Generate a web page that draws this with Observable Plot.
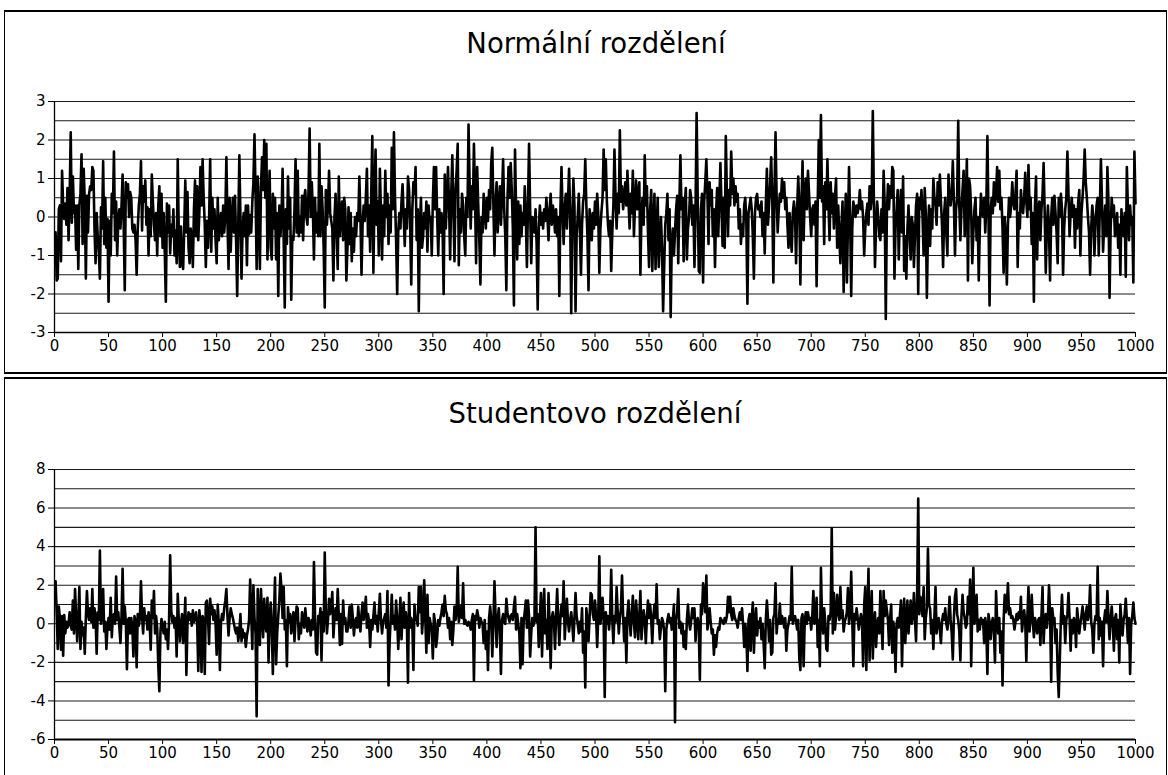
<!DOCTYPE html>
<html><head><meta charset="utf-8">
<script src="https://cdn.jsdelivr.net/npm/d3@7"></script>
<script src="https://cdn.jsdelivr.net/npm/@observablehq/plot@0.6"></script>
<style>
html,body{margin:0;padding:0;background:#fff;}
body{width:1168px;height:775px;position:relative;overflow:hidden;font-family:"DejaVu Sans",Verdana,sans-serif;}
.panel{position:absolute;box-sizing:border-box;border:1px solid #000;border-top-width:2px;border-bottom-width:2px;pointer-events:none;}
.title{position:absolute;font-size:27.5px;line-height:27.5px;color:#000;transform:translateX(-50%);white-space:nowrap;}
.chart{position:absolute;left:0;}
</style></head><body>
<div id="c1" class="chart" style="top:80px"></div>
<div id="c2" class="chart" style="top:450px"></div>
<div class="panel" style="left:4px;top:10px;width:1163px;height:364px"></div>
<div class="panel" style="left:4px;top:377px;width:1163px;height:420px"></div>
<div class="title" style="left:596px;top:29.5px">Normální rozdělení</div>
<div class="title" style="left:595px;top:400px">Studentovo rozdělení</div>
<script>
const xTicks = [0,50,100,150,200,250,300,350,400,450,500,550,600,650,700,750,800,850,900,950,1000];
const normalYTicks = [-3,-2,-1,0,1,2,3];
const normalGrid = [-2.5,-2,-1.5,-1,-0.5,0,0.5,1,1.5,2,2.5,3];
const studentYTicks = [-6,-4,-2,0,2,4,6,8];
const studentGrid = [-5,-4,-3,-2,-1,0,1,2,3,4,5,6,7,8];

const normalValues = [
-0.4,-1.65,-1.6,0.2,0.3,-1.15,1.2,0.3,-0.05,0.35,
-0.2,0.75,-0.6,0.5,2.2,-0.15,1.05,0.1,0.3,-0.85,
0.3,-1.35,0.3,0.6,1.63,-0.7,1.25,0.4,-1.6,0.55,
-0.4,0.6,0.8,0.7,1.3,1.2,-0.3,-1.2,0.1,-0.5,
-0.9,-1.6,0.25,-0.3,1.45,-0.7,0.5,-0.8,-0.05,-2.2,
-0.1,-1.0,0.6,0.1,1.7,-0.6,0.4,-1.0,-0.1,0.2,
-0.3,0.3,1.1,-0.2,-1.9,0.9,0.5,0.85,0.0,0.65,
0.5,-0.3,-0.4,-0.2,-0.6,-1.5,-0.3,0.3,0.6,1.45,
-0.35,0.8,0.4,0.95,-0.2,0.25,-1.0,0.2,-0.5,1.1,
0.4,-0.2,-0.6,0.1,-1.0,0.3,0.8,-0.5,0.6,-0.8,
0.1,-0.9,-2.2,0.35,-0.4,0.3,-0.95,-0.2,-0.5,0.2,
-1.0,-0.35,-1.2,1.5,-0.5,-1.3,-0.25,-1.2,-1.35,-0.3,
0.95,-0.4,0.65,-0.8,-1.2,-0.3,-0.6,-1.3,0.2,0.95,
-0.5,0.8,-0.6,0.1,1.3,0.3,1.5,0.5,-0.2,-1.3,
-0.1,-0.8,-0.1,1.5,-0.9,0.5,-0.3,0.2,-0.6,-1.2,
0.5,-0.6,-0.2,0.1,-0.5,0.3,-0.4,0.0,1.55,-0.1,
-1.35,0.5,-0.9,0.0,0.5,-0.4,0.55,-0.65,-2.05,-0.2,
1.6,0.0,-1.6,-0.3,0.1,-0.5,0.3,-1.25,0.3,-0.45,
0.05,-0.4,0.4,0.9,2.15,0.6,-1.35,1.05,0.1,-1.35,
0.8,1.55,0.7,2.0,0.5,1.9,-1.1,0.2,1.2,-0.8,
-1.1,0.6,-0.3,0.5,-1.1,0.1,-2.05,0.3,-0.5,0.0,
1.25,-0.6,-2.35,0.2,-0.7,1.05,-0.3,0.5,-2.15,-0.5,
-0.6,0.2,1.5,-0.4,1.2,-0.5,0.0,-0.4,0.55,-0.6,
0.5,0.7,0.0,-0.2,0.7,2.3,0.0,0.9,0.2,-1.1,
0.5,-0.4,0.1,-0.5,1.9,-0.5,0.8,0.2,-0.8,-2.35,
0.7,-0.2,0.3,1.2,0.1,-0.1,-0.3,-1.65,0.0,0.6,
-0.4,-1.35,1.05,-0.5,0.0,0.4,-0.6,0.5,0.2,-1.65,
-0.8,0.25,-0.7,0.1,-1.15,-0.3,-0.9,0.0,-0.5,0.1,
-0.1,1.05,0.0,-1.5,-0.2,0.3,-0.1,0.5,1.25,-0.5,
0.3,-0.9,0.6,2.1,-1.45,0.5,1.75,-0.2,0.4,-1.0,
1.25,0.1,-1.1,0.3,-0.5,1.2,0.0,0.6,-0.7,0.3,
-0.4,1.8,0.2,2.2,0.5,-0.6,-2.0,-0.4,0.1,-0.3,
0.4,0.85,0.0,-0.75,0.2,-0.3,1.05,0.7,-0.2,-1.75,
0.2,0.9,0.6,1.3,-0.6,0.2,-2.45,-0.2,0.5,-0.8,
-0.5,0.1,-0.3,0.4,-0.9,0.3,-0.1,0.0,-1.0,0.4,
1.3,0.2,1.3,0.0,-1.0,0.2,-0.4,0.1,-0.3,-2.0,
1.1,-0.3,0.5,1.3,0.3,-1.1,0.6,1.6,0.2,-1.15,
0.7,1.2,1.9,-1.25,0.2,-0.4,0.6,0.3,-0.5,-1.0,
0.5,0.0,2.4,0.9,-0.3,0.8,0.2,1.9,0.6,-1.2,
1.3,0.3,-0.6,-1.75,0.0,-0.4,0.6,0.2,-0.3,0.5,
-0.1,0.7,0.2,1.4,1.8,0.3,-1.0,0.4,0.9,-0.4,
0.3,0.8,-0.2,0.6,1.5,0.2,-0.5,-1.9,0.4,1.3,
0.5,1.4,0.7,-0.3,-2.3,1.75,0.2,-1.1,0.4,-0.7,
0.3,-0.5,0.1,-0.2,0.8,0.0,-1.3,0.3,1.9,0.2,
-1.2,0.0,-0.1,-0.4,0.2,-0.7,-2.4,-0.3,0.3,-0.2,
0.1,-0.3,0.2,-0.1,0.5,0.0,-0.6,0.2,0.6,-0.2,
0.3,0.1,-0.4,0.2,-0.5,0.0,-2.05,0.2,1.3,0.1,
-0.7,0.25,0.6,-0.3,0.4,1.25,0.1,-2.5,-0.2,1.0,
0.3,-2.45,-0.5,0.0,0.6,-0.3,-1.5,-0.2,0.4,0.6,
1.5,0.3,-0.5,-1.9,0.2,-0.1,-0.6,0.1,-0.3,0.4,
-0.2,0.6,0.1,-1.45,-0.3,0.15,0.5,1.75,0.7,1.5,
0.4,-0.2,-0.5,-0.1,-1.4,-0.4,0.3,1.75,0.5,-0.3,
0.6,0.1,2.25,0.4,0.8,0.2,0.5,0.9,0.3,1.2,
0.4,-0.3,0.6,0.1,1.2,-0.5,0.3,0.95,0.2,0.6,
0.9,-1.5,0.1,0.5,-0.2,1.6,0.3,0.8,-0.4,-1.3,
0.2,0.7,-1.4,-0.2,0.6,-1.35,-0.4,0.5,-1.3,-0.6,
0.0,-0.8,-2.45,-1.3,-0.2,0.1,0.6,-0.6,0.2,-2.6,
-0.7,-0.3,-1.0,-0.4,0.2,0.55,-1.2,0.3,1.6,0.2,
0.5,-1.15,0.3,0.75,-1.1,-0.3,0.0,0.7,0.5,-0.2,
0.3,-1.3,0.2,2.7,0.5,-1.4,-1.45,0.2,0.6,-1.7,
0.4,0.9,1.5,0.6,-0.7,0.9,0.3,0.7,-0.5,0.2,
-1.3,0.1,0.75,-0.5,0.4,1.4,0.3,-0.75,0.5,-0.8,
2.1,0.6,-0.5,0.7,0.3,1.7,0.6,1.0,0.3,0.8,
0.4,0.6,-0.3,0.2,-0.7,-0.2,-0.5,0.3,0.5,-0.1,
-2.25,0.1,0.3,0.5,0.2,-0.5,-1.6,0.1,0.5,0.6,
0.2,0.3,0.0,0.4,-0.5,0.1,-0.95,0.3,1.25,-0.2,
0.3,0.9,1.55,0.4,-1.7,0.6,2.2,0.5,-0.4,0.2,
0.6,0.4,1.0,0.5,0.9,0.2,0.5,-0.2,-0.8,0.1,
-0.5,-0.9,0.1,0.4,0.1,-1.2,0.2,1.05,0.3,-1.75,
0.4,1.45,-0.6,0.6,1.0,0.2,1.2,0.6,0.0,-0.5,
0.2,0.3,-0.2,0.4,-1.8,0.3,2.0,0.5,2.65,0.4,
0.8,-0.7,0.9,0.2,1.5,0.3,-0.6,0.9,0.1,0.6,
-0.3,0.5,1.0,-0.8,0.3,-0.5,-1.2,-0.2,0.4,-1.95,
-0.4,0.6,-1.7,-0.2,1.3,0.0,-2.05,-0.3,0.4,0.2,
0.0,0.3,0.1,0.3,0.7,0.2,0.4,0.0,-1.0,-0.3,
0.1,0.35,-0.2,0.8,0.2,0.5,2.75,0.4,-1.3,-0.2,
0.4,0.0,-0.5,-0.6,0.2,-0.4,1.2,0.3,-2.65,0.1,
0.85,0.2,0.8,0.5,1.3,1.2,-1.6,-0.3,0.2,0.7,
-1.1,0.1,0.7,-0.4,1.05,-1.4,-0.5,-1.6,-0.3,0.3,
-0.4,-1.1,0.0,-0.2,-1.3,-0.5,0.3,0.6,-2.0,0.5,
0.2,0.7,0.0,-1.0,0.75,0.1,-2.1,-0.4,0.3,-0.75,
0.2,-0.3,1.0,0.5,0.3,-0.2,0.9,0.3,1.1,0.4,
-0.2,-1.3,0.1,0.5,-0.4,-1.0,1.1,0.5,0.3,0.6,
1.45,0.4,-1.0,0.2,0.5,2.5,0.3,-0.6,0.2,0.7,
1.2,-0.5,0.4,1.5,-1.65,1.0,0.8,0.1,-1.2,-0.4,
0.2,0.5,-0.6,0.0,-1.65,-0.3,0.6,0.2,0.0,0.5,
-0.4,0.3,2.1,0.0,-2.3,0.2,0.5,0.1,0.9,0.3,
0.6,1.3,0.4,1.2,0.2,0.5,-0.3,-1.45,0.0,-0.5,
-1.75,-0.2,0.5,0.0,0.3,0.9,0.4,0.2,0.6,1.2,
-1.3,0.1,-0.3,0.7,0.3,0.1,0.5,1.15,0.4,0.0,
1.35,0.2,0.5,-0.7,0.1,-2.2,0.3,1.05,-1.1,0.2,
0.4,-0.6,0.2,0.6,1.4,0.1,-1.45,-0.3,0.3,-0.4,
-1.65,0.0,0.5,-0.2,0.55,0.1,-0.4,-1.2,0.5,0.0,
0.6,0.2,-1.5,-0.3,0.2,0.5,1.7,0.6,-0.5,0.1,
0.5,0.0,0.3,-0.8,0.2,-0.3,0.4,0.7,-1.0,0.1,
0.5,1.0,1.75,0.9,0.5,0.0,-0.4,-1.5,-0.3,0.3,
0.0,-1.0,-0.2,0.3,0.5,-1.0,0.2,1.5,0.4,-0.9,
-0.2,0.3,-0.5,1.3,0.4,-2.1,-0.3,0.5,0.0,0.3,
-0.5,-0.3,0.1,-0.8,-0.2,-1.5,0.2,-0.3,-0.5,0.1,
-1.55,1.3,0.2,-0.6,0.3,-0.2,0.0,-1.7,1.7,0.35
];

const studentValues = [
2.2,0.6,-1.3,0.9,0.3,-1.35,0.4,-1.65,0.45,-0.5,
0.1,-0.2,0.0,0.6,-0.1,-0.3,1.2,-0.5,1.8,0.4,
-0.9,0.2,1.9,-1.3,0.1,-0.6,-0.2,-1.55,0.3,1.7,
0.5,0.2,0.8,0.1,1.8,-0.2,0.8,0.3,-1.55,0.6,
0.2,3.8,0.0,0.5,1.8,-0.4,0.1,-1.3,-0.2,0.3,
-0.3,1.35,-0.7,0.4,0.5,0.0,2.45,0.2,0.6,-0.2,
-1.0,0.4,2.85,0.0,0.9,0.1,-2.35,0.2,0.3,-0.5,
0.3,-0.2,-1.7,0.4,0.1,-2.25,0.5,-0.1,0.3,2.2,
0.4,-0.5,0.8,0.2,0.4,-0.3,0.6,0.1,-1.35,1.2,
0.3,1.7,-0.5,0.4,-0.2,-2.15,-3.5,-0.4,0.25,-0.2,
-0.5,0.1,-0.8,-0.3,-1.3,0.2,3.55,0.7,0.1,0.4,
-0.2,0.3,-1.7,1.55,0.2,-0.9,0.05,0.5,-1.0,-0.3,
1.35,-2.65,0.0,0.6,0.2,0.5,-0.1,0.7,0.1,0.3,
0.6,0.0,-2.45,0.7,0.1,-2.5,0.4,0.2,-2.6,1.1,
1.2,0.3,-1.05,1.3,0.5,0.9,0.2,0.7,0.0,-1.6,
1.0,0.0,-2.4,0.1,0.5,0.2,0.8,1.2,1.8,0.4,
-0.6,0.3,0.8,0.5,0.3,0.0,-0.3,-0.5,-0.2,-0.9,
-0.4,0.5,-0.9,-0.3,-0.7,-0.5,-1.2,-0.6,-0.3,0.2,
2.3,0.5,-1.3,2.0,0.3,-0.5,-4.8,1.8,0.2,-1.1,
1.8,0.4,-0.7,1.3,0.0,-0.4,1.35,-2.0,0.3,1.1,
-0.3,-2.6,0.4,2.4,-2.1,-0.5,0.4,1.2,2.6,1.8,
0.3,1.9,-0.3,0.2,-2.2,0.85,0.1,0.5,-0.5,0.1,
0.6,-0.9,0.2,0.9,0.8,-0.8,0.0,-0.5,0.6,0.2,
-0.2,0.8,0.1,-0.4,0.3,0.0,-0.6,0.2,-0.3,3.2,
0.4,-1.5,-1.6,0.4,0.1,0.8,-1.9,0.6,-0.4,3.7,
0.6,-0.5,0.2,1.3,0.5,0.9,1.65,-0.7,0.3,0.8,
0.2,1.8,0.4,-1.1,0.5,-1.05,1.2,0.0,0.3,-0.4,
-0.4,0.2,0.9,-0.2,1.0,0.3,-0.6,0.1,0.3,-0.2,
0.9,0.0,-0.4,0.5,1.1,0.2,0.6,1.4,-0.2,0.5,
0.1,-1.2,0.2,-0.3,0.4,1.1,0.0,0.4,-0.4,0.6,
1.55,0.2,-0.5,0.1,0.3,0.5,-0.2,1.7,-3.2,-1.0,
0.3,1.5,0.0,0.4,-0.3,1.2,0.2,-1.3,0.1,1.35,
-0.8,0.3,1.1,-0.2,0.6,0.0,-3.05,1.6,-0.2,0.3,
0.1,-2.4,1.0,0.2,0.3,-0.1,1.9,0.6,1.9,-0.5,
0.4,2.25,0.3,-1.5,1.5,-1.0,0.3,0.0,-0.4,-1.8,
0.5,0.1,-1.2,-0.7,0.2,-0.1,0.3,0.6,1.0,0.4,
1.45,0.7,0.5,-0.2,0.3,-0.8,0.1,-1.1,-0.3,0.9,
0.2,0.6,2.95,0.1,0.5,0.9,0.3,2.1,0.0,0.2,
0.0,-0.1,0.1,0.0,-0.3,0.2,0.5,-2.95,0.4,0.2,
0.7,0.4,-0.2,0.3,0.1,0.0,-1.0,0.2,-1.3,-0.4,
-2.4,0.3,0.9,0.2,-1.7,0.1,2.2,0.4,-1.2,0.3,
0.8,-0.3,-2.6,0.2,0.5,0.1,0.0,1.3,0.6,0.3,
0.1,0.4,0.5,0.2,0.9,1.4,-0.3,0.5,0.0,-0.5,
-2.3,0.3,-2.1,0.1,0.6,1.2,-0.2,1.2,0.4,-1.7,
-0.5,0.3,-0.1,0.2,5.0,0.1,0.5,-1.2,0.3,1.6,
-1.7,0.4,1.8,-0.5,0.2,-1.3,1.6,0.0,-2.3,0.3,
0.6,0.2,-1.3,0.4,1.8,0.2,-1.1,0.3,1.0,0.4,
2.2,-0.8,0.3,1.3,0.1,-0.4,0.2,0.6,0.0,-0.9,
0.3,1.6,0.4,0.0,-0.5,0.1,-0.4,0.8,-1.5,-0.4,
-3.3,0.8,0.2,-0.9,0.3,1.6,1.5,0.5,0.2,1.2,
0.4,-1.2,0.3,3.5,0.0,0.5,1.35,0.2,-3.8,0.6,
0.0,0.4,-0.3,0.5,2.8,0.2,-1.0,0.4,0.1,1.9,
0.6,-0.5,0.3,0.8,2.5,0.4,-0.9,0.3,-2.0,0.5,
1.2,0.2,-0.6,0.5,1.45,0.1,-0.7,1.2,0.3,-0.8,
0.4,1.7,-0.8,0.1,0.7,0.2,-1.0,0.3,1.2,0.3,
1.0,0.2,-1.0,0.4,1.0,0.3,2.05,0.0,0.2,-0.8,
-0.2,0.3,0.1,-0.4,-3.5,-0.3,0.2,0.5,0.1,0.3,
-0.3,0.2,1.0,-5.1,0.2,0.6,1.8,-0.2,0.1,-0.5,
0.0,-1.2,-0.4,-1.3,0.2,1.0,0.1,-0.3,0.2,0.8,
0.3,0.8,-0.9,0.1,0.3,-0.2,-2.9,1.0,0.5,2.1,
1.5,0.6,2.5,-0.3,0.2,0.8,0.1,-0.5,-0.3,-1.6,
-0.6,-1.2,-0.5,-0.2,-0.3,0.3,0.2,0.1,0.0,0.3,
0.1,0.4,1.4,0.6,1.4,0.5,0.2,0.8,0.4,0.2,
0.1,-0.2,0.3,0.6,0.2,0.8,0.0,-1.2,0.0,-0.5,
-2.45,0.2,0.5,-1.4,0.3,1.1,-1.5,0.0,0.8,-0.6,
0.1,-0.2,0.3,-0.8,0.0,-1.0,-2.3,0.2,1.2,0.3,
-0.9,0.2,-1.6,-1.5,0.3,0.5,2.1,-0.5,0.2,0.0,
1.05,0.0,0.4,0.2,-0.2,0.3,-1.4,-0.3,0.0,0.4,
0.2,2.95,0.0,0.3,0.4,0.1,-0.3,0.2,-1.8,-2.4,
0.3,0.5,-2.2,0.1,0.6,0.0,0.6,0.2,0.3,-0.3,
0.4,1.7,0.0,0.3,1.35,-1.2,0.2,-2.2,2.9,0.3,
-0.5,0.8,0.1,-1.3,-1.4,0.4,0.2,0.6,4.95,-0.5,
1.6,-0.3,0.4,1.5,0.6,0.2,1.9,0.3,0.7,-0.4,
0.1,0.3,0.6,1.85,0.0,0.5,2.7,0.2,-2.2,0.5,
0.2,0.8,0.3,-0.3,0.1,0.5,0.2,-2.2,1.0,1.9,
-2.4,0.3,2.85,-1.9,0.3,1.7,-1.8,0.2,0.6,-1.2,
-0.1,0.3,-0.5,1.7,0.2,-1.3,1.7,0.4,1.2,0.7,
0.2,-1.1,0.3,1.0,-1.5,0.1,-0.5,-2.5,0.0,0.3,
-0.2,0.4,1.2,-2.2,0.3,1.3,-1.0,0.2,1.2,-0.5,
0.3,1.2,0.0,0.4,1.6,0.2,-0.9,1.5,6.5,0.5,
1.4,1.1,0.4,1.9,-0.8,0.3,0.8,3.9,1.0,0.8,
-0.5,0.2,-1.3,0.4,1.9,-0.5,0.1,0.3,-0.3,-1.0,
0.1,0.5,0.2,0.8,0.0,-0.3,0.3,1.4,0.2,-0.5,
-1.85,0.3,1.4,1.8,0.5,0.2,-0.4,-1.9,0.4,1.5,
0.6,0.3,-0.2,0.0,1.4,0.5,2.3,-2.2,0.8,2.9,
0.0,0.4,1.5,-0.4,0.2,-0.3,0.3,0.0,0.2,-1.0,
0.3,-0.2,-2.6,0.5,0.1,-0.8,0.0,0.3,-0.4,-2.0,
1.7,0.2,-0.5,0.3,-1.5,-0.4,-3.2,0.2,1.5,0.6,
0.9,2.1,0.5,0.8,0.3,0.4,0.2,-0.3,0.1,0.5,
0.2,0.6,0.3,1.4,-0.4,0.2,0.7,0.1,-1.95,0.4,
1.9,-0.4,0.3,1.5,0.2,-0.7,0.3,0.0,-0.5,0.2,
0.3,-1.1,0.4,1.9,-1.0,0.2,0.5,-0.2,0.4,2.0,
0.5,-3.0,0.8,0.2,0.3,-1.0,-0.3,-2.5,-3.8,-1.8,
0.3,1.5,0.0,0.4,-1.0,0.2,0.5,1.6,0.3,-1.4,
0.2,-0.5,0.3,0.1,-1.2,0.8,0.2,-0.5,0.0,0.4,
0.9,0.3,-0.3,0.5,0.9,0.2,0.6,2.0,0.1,-0.3,
-1.5,0.0,0.4,0.2,2.95,-0.8,0.3,-0.6,0.1,-2.2,
0.2,0.7,0.1,1.7,0.3,-0.8,0.2,0.9,0.0,-1.4,
0.3,0.5,-0.8,0.2,-2.0,1.0,0.1,-0.6,0.2,0.5,
1.3,0.2,-1.0,0.3,-2.6,0.0,0.4,1.1,0.3,0.0
];

function makeChart(values, yDomain, yTicks, grid, height, marginTop, marginBottom, axisWidth) {
  const data = values.map((v, i) => ({x: i + 1, y: v}));
  const svg = Plot.plot({
    width: 1168,
    height,
    marginLeft: 54,
    marginRight: 33,
    marginTop,
    marginBottom,
    style: {fontFamily: "'DejaVu Sans', Verdana, sans-serif", fontSize: "15px", color: "#000", background: "transparent", overflow: "visible"},
    x: {domain: [0, 1000]},
    y: {domain: yDomain},
    marks: [
      Plot.ruleY(grid, {stroke: "#1a1a1a", strokeWidth: 1.1}),
      Plot.line(data, {x: "x", y: "y", stroke: "#000", strokeWidth: 2.6}),
      Plot.ruleX([0], {stroke: "#000", strokeWidth: 1.3}),
      Plot.ruleY([yDomain[0]], {stroke: "#000", strokeWidth: axisWidth}),
      Plot.axisX(xTicks, {tickSize: 5, tickPadding: 3, tickFormat: d => String(d), label: null, stroke: "#000"}),
      Plot.axisY(yTicks, {tickSize: 6, tickPadding: 3, tickFormat: d => String(d), label: null, stroke: "#000"})
    ]
  });
  svg.querySelectorAll("text").forEach(t => {
    t.style.fontSize = "15px";
    t.style.fontFamily = "'DejaVu Sans', Verdana, sans-serif";
    t.style.fill = "#000";
  });
  return svg;
}

document.getElementById("c1").appendChild(
  makeChart(normalValues, [-3, 3], normalYTicks, normalGrid, 290, 21, 38, 1.5));
document.getElementById("c2").appendChild(
  makeChart(studentValues, [-6, 8], studentYTicks, studentGrid, 325, 19, 36, 2));
</script>
</body></html>
